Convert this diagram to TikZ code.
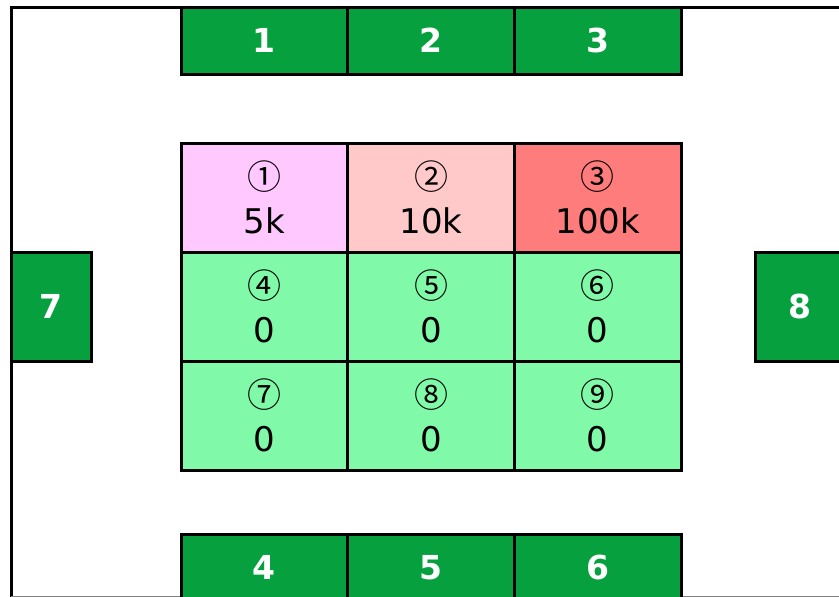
\documentclass[tikz,border=0pt]{standalone}
\usepackage{fontspec}
\setmainfont{DejaVu Sans}
\newfontfamily\circfont{Noto Sans CJK JP}
\usepackage{tikz}
\usetikzlibrary{positioning}

\definecolor{slotgreen}{RGB}{7,160,63}
\definecolor{zerogreen}{RGB}{128,250,168}
\definecolor{lowpink}{RGB}{255,201,255}
\definecolor{midpink}{RGB}{255,201,201}
\definecolor{highred}{RGB}{255,124,124}

\newcommand{\circnum}[1]{{\circfont #1}}

\begin{document}
\begin{tikzpicture}[
  x=1pt, y=-1pt,
  slot/.style={rectangle, draw=black, line width=3pt, fill=slotgreen,
               text=white, font=\fontsize{33}{40}\selectfont\bfseries,
               minimum width=166.7pt, minimum height=67pt,
               inner sep=0pt, outer sep=0pt},
  vslot/.style={slot, minimum width=80pt, minimum height=109pt},
  cell/.style={rectangle, draw=black, line width=3pt, fill=zerogreen,
               minimum width=166.7pt, minimum height=109pt,
               inner sep=0pt, outer sep=0pt, align=center,
               font=\fontsize{34}{44}\selectfont},
]
\clip (0,0) rectangle (839,597);
\fill[white] (0,0) rectangle (839,597);

%% ---- frame ----
\draw[line width=3pt] (11,600) -- (11,7) -- (845,7);
\draw[gray, line width=1pt] (11,596.5) -- (845,596.5);

%% ---- top row ----
\node[slot, anchor=north west] at (181,7) (s1) {1};
\node[slot, right=0pt of s1] (s2) {2};
\node[slot, right=0pt of s2] (s3) {3};

%% ---- centre grid ----
\node[cell, fill=lowpink, anchor=north west] at (181,143) (c1) {\circnum{①}\\5k};
\node[cell, fill=midpink, right=0pt of c1] (c2) {\circnum{②}\\10k};
\node[cell, fill=highred, right=0pt of c2] (c3) {\circnum{③}\\100k};
\node[cell, below=0pt of c1] (c4) {\circnum{④}\\0};
\node[cell, below=0pt of c2] (c5) {\circnum{⑤}\\0};
\node[cell, below=0pt of c3] (c6) {\circnum{⑥}\\0};
\node[cell, below=0pt of c4] (c7) {\circnum{⑦}\\0};
\node[cell, below=0pt of c5] (c8) {\circnum{⑧}\\0};
\node[cell, below=0pt of c6] (c9) {\circnum{⑨}\\0};

%% ---- sides ----
\node[vslot, anchor=north west] at (11,252) (s7) {7};
\node[vslot, minimum width=90pt, anchor=north west] at (755,252) (s8) {8};

%% ---- bottom row ----
\node[slot, anchor=north west] at (181,534) (s4) {4};
\node[slot, right=0pt of s4] (s5) {5};
\node[slot, right=0pt of s5] (s6) {6};

\end{tikzpicture}
\end{document}
